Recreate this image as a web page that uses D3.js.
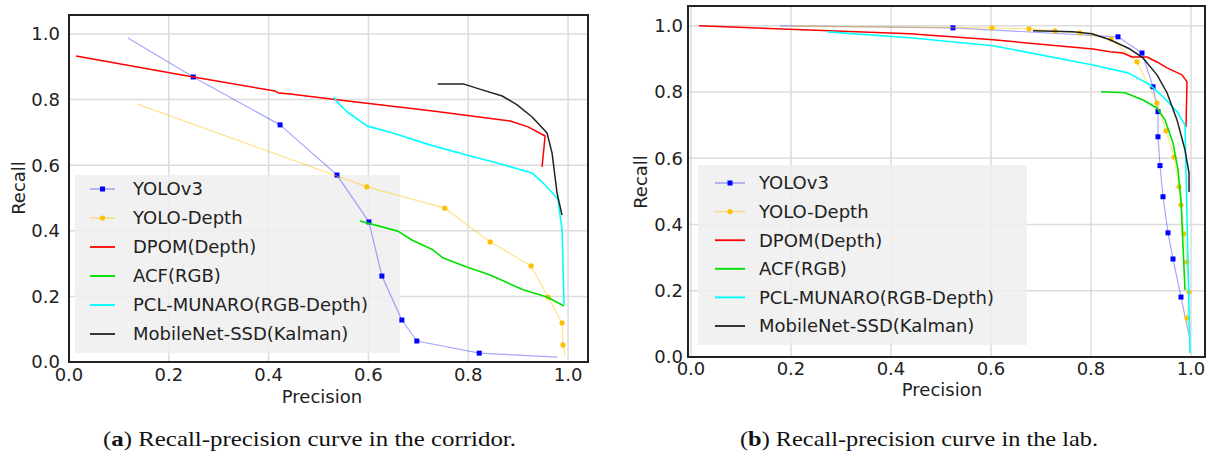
<!DOCTYPE html>
<html>
<head>
<meta charset="utf-8">
<script src="https://cdn.jsdelivr.net/npm/d3@7"></script>
<style>
  body { margin: 0; background: #fff; }
  svg text { font-family: "DejaVu Sans", sans-serif; fill: #222; }
  svg text.caption { font-family: "Liberation Serif", serif; fill: #111; }
</style>
</head>
<body>
<div id="chart"></div>
<script>
// series names, in legend order
const seriesNames = ["YOLOv3", "YOLO-Depth", "DPOM(Depth)", "ACF(RGB)", "PCL-MUNARO(RGB-Depth)", "MobileNet-SSD(Kalman)"];
const tickValues = [0, 0.2, 0.4, 0.6, 0.8, 1.0];

// (a) corridor, [precision, recall]
const corridorYolo = [[0.118, 0.988], [0.249, 0.869], [0.423, 0.723], [0.537, 0.570], [0.601, 0.427],
  [0.627, 0.262], [0.667, 0.128], [0.697, 0.064], [0.822, 0.027], [0.978, 0.015]];
const corridorYoloDepth = [[0.136, 0.787], [0.597, 0.534], [0.753, 0.469], [0.844, 0.366], [0.926, 0.293],
  [0.960, 0.198], [0.988, 0.119], [0.990, 0.052], [0.994, 0.018]];
const corridorDpom = [[0.014, 0.933], [0.249, 0.869], [0.413, 0.826], [0.421, 0.820], [0.443, 0.817],
  [0.533, 0.800], [0.729, 0.765], [0.884, 0.735], [0.920, 0.717], [0.954, 0.689], [0.948, 0.595]];
const corridorAcf = [[0.583, 0.430], [0.659, 0.399], [0.687, 0.372], [0.727, 0.344], [0.750, 0.317],
  [0.797, 0.290], [0.844, 0.265], [0.910, 0.220], [0.958, 0.198], [0.992, 0.171]];
const corridorPcl = [[0.531, 0.808], [0.537, 0.793], [0.557, 0.763], [0.597, 0.720], [0.649, 0.698],
  [0.723, 0.662], [0.797, 0.631], [0.858, 0.607], [0.928, 0.576], [0.950, 0.546], [0.978, 0.500],
  [0.980, 0.494], [0.988, 0.402], [0.992, 0.174]];
const corridorMobile = [[0.739, 0.848], [0.790, 0.848], [0.823, 0.832], [0.868, 0.811], [0.898, 0.784],
  [0.928, 0.747], [0.958, 0.698], [0.968, 0.637], [0.978, 0.515], [0.988, 0.448]];

// (b) lab, [precision, recall]
const labYolo = [[0.178, 1.000], [0.524, 0.994], [0.854, 0.967], [0.902, 0.918], [0.924, 0.816],
  [0.934, 0.741], [0.934, 0.665], [0.938, 0.578], [0.944, 0.484], [0.954, 0.375], [0.964, 0.296],
  [0.980, 0.181], [0.996, 0.066]];
const labYoloDepth = [[0.200, 0.999], [0.602, 0.994], [0.676, 0.991], [0.728, 0.985], [0.778, 0.979],
  [0.840, 0.960], [0.892, 0.891], [0.932, 0.767], [0.950, 0.683], [0.966, 0.604], [0.976, 0.514],
  [0.980, 0.459], [0.986, 0.372], [0.992, 0.287], [0.996, 0.196], [0.992, 0.118], [0.996, 0.066]];
const labDpom = [[0.016, 1.000], [0.438, 0.976], [0.604, 0.958], [0.804, 0.930], [0.838, 0.922],
  [0.864, 0.918], [0.882, 0.906], [0.912, 0.906], [0.932, 0.891], [0.952, 0.873], [0.982, 0.852],
  [0.992, 0.831], [0.990, 0.695]];
const labAcf = [[0.820, 0.801], [0.868, 0.798], [0.904, 0.776], [0.932, 0.752], [0.948, 0.716],
  [0.964, 0.646], [0.974, 0.565], [0.980, 0.474], [0.982, 0.405], [0.988, 0.202]];
const labPcl = [[0.274, 0.982], [0.438, 0.964], [0.604, 0.940], [0.804, 0.882], [0.874, 0.858],
  [0.918, 0.822], [0.944, 0.786], [0.972, 0.741], [0.988, 0.701], [0.998, 0.012]];
const labMobile = [[0.684, 0.985], [0.764, 0.982], [0.802, 0.976], [0.838, 0.958], [0.878, 0.930],
  [0.904, 0.903], [0.932, 0.852], [0.952, 0.798], [0.972, 0.716], [0.988, 0.625], [0.996, 0.556],
  [0.996, 0.498]];

const styles = [
  {line: "#0000ff", opacity: 0.35, width: 1.2, mark: "square", markColor: "#0000ff"},
  {line: "#ffc000", opacity: 0.45, width: 1.2, mark: "circle", markColor: "#ffc000"},
  {line: "#ff0000", opacity: 1, width: 1.5},
  {line: "#00e000", opacity: 1, width: 1.6},
  {line: "#00ffff", opacity: 1, width: 1.6},
  {line: "#222222", opacity: 1, width: 1.5}
];

const fontSize = "18px";

const svg = d3.select("#chart").append("svg")
  .attr("width", 1213).attr("height", 457);

function drawPanel(cfg) {
  const g = svg.append("g");
  const x = d3.scaleLinear().domain(cfg.xDomain).range([cfg.left, cfg.right]);
  const y = d3.scaleLinear().domain(cfg.yDomain).range([cfg.bottom, cfg.top]);

  // grid
  g.selectAll("line.gx").data(tickValues).enter().append("line")
    .attr("x1", d => x(d)).attr("x2", d => x(d))
    .attr("y1", cfg.top).attr("y2", cfg.bottom)
    .attr("stroke", "#dcdcdc").attr("stroke-width", 1.5);
  g.selectAll("line.gy").data(tickValues).enter().append("line")
    .attr("y1", d => y(d)).attr("y2", d => y(d))
    .attr("x1", cfg.left).attr("x2", cfg.right)
    .attr("stroke", "#dcdcdc").attr("stroke-width", 1.5);

  // legend background sits under the curves
  const lg = cfg.legend;
  g.append("rect")
    .attr("x", lg.x).attr("y", lg.y).attr("width", lg.w).attr("height", lg.h)
    .attr("fill", "#efefef").attr("fill-opacity", 0.85);

  const line = d3.line().x(d => x(d[0])).y(d => y(d[1]));
  cfg.series.forEach((s, i) => {
    const st = styles[i];
    g.append("path").datum(s)
      .attr("d", line)
      .attr("fill", "none")
      .attr("stroke", st.line)
      .attr("stroke-opacity", st.opacity)
      .attr("stroke-width", st.width)
      .attr("stroke-linejoin", "round");
    if (st.mark) {
      const pts = s.slice(1, -1);
      if (st.mark === "square") {
        g.selectAll(null).data(pts).enter().append("rect")
          .attr("x", d => x(d[0]) - 2.5).attr("y", d => y(d[1]) - 2.5)
          .attr("width", 5).attr("height", 5)
          .attr("fill", st.markColor);
      } else {
        g.selectAll(null).data(pts).enter().append("circle")
          .attr("cx", d => x(d[0])).attr("cy", d => y(d[1]))
          .attr("r", 2.6).attr("fill", st.markColor);
      }
    }
  });

  seriesNames.forEach((name, i) => {
    const st = styles[i];
    const ry = lg.firstRow + i * lg.step;
    g.append("line")
      .attr("x1", lg.lineX).attr("x2", lg.lineX + lg.lineW)
      .attr("y1", ry).attr("y2", ry)
      .attr("stroke", st.line).attr("stroke-opacity", st.opacity)
      .attr("stroke-width", st.width + 0.3);
    if (st.mark === "square") {
      g.append("rect").attr("x", lg.lineX + lg.lineW / 2 - 2.5).attr("y", ry - 2.5)
        .attr("width", 5).attr("height", 5).attr("fill", st.markColor);
    } else if (st.mark) {
      g.append("circle").attr("cx", lg.lineX + lg.lineW / 2).attr("cy", ry)
        .attr("r", 2.6).attr("fill", st.markColor);
    }
    g.append("text")
      .attr("x", lg.textX).attr("y", ry)
      .attr("dy", "0.35em")
      .style("font-size", fontSize)
      .text(name);
  });

  // frame
  g.append("rect")
    .attr("x", cfg.left).attr("y", cfg.top)
    .attr("width", cfg.right - cfg.left).attr("height", cfg.bottom - cfg.top)
    .attr("fill", "none").attr("stroke", "#222").attr("stroke-width", 2);

  // tick labels
  const fmt = d3.format(".1f");
  g.selectAll(null).data(tickValues).enter().append("text")
    .attr("x", d => x(d)).attr("y", cfg.bottom + cfg.xPad)
    .attr("dy", "0.71em").attr("text-anchor", "middle")
    .style("font-size", fontSize)
    .text(fmt);
  g.selectAll(null).data(tickValues).enter().append("text")
    .attr("x", cfg.left - cfg.yPad).attr("y", d => y(d))
    .attr("dy", "0.35em").attr("text-anchor", "end")
    .style("font-size", fontSize)
    .text(fmt);

  g.append("text")
    .attr("x", cfg.xLabel[0]).attr("y", cfg.xLabel[1])
    .attr("text-anchor", "middle").style("font-size", fontSize)
    .text("Precision");
  g.append("text")
    .attr("transform", `translate(${cfg.yLabel[0]},${cfg.yLabel[1]}) rotate(-90)`)
    .attr("text-anchor", "middle").attr("dy", "0.35em").style("font-size", fontSize)
    .text("Recall");

  const cap = g.append("text").attr("class", "caption")
    .attr("x", cfg.caption.x).attr("y", cfg.caption.y)
    .attr("textLength", cfg.caption.len).attr("lengthAdjust", "spacingAndGlyphs")
    .style("font-size", "22px");
  cap.append("tspan").text("(");
  cap.append("tspan").style("font-weight", "bold").text(cfg.caption.letter);
  cap.append("tspan").text(") " + cfg.caption.text);
}

drawPanel({
  left: 69, right: 588, top: 15, bottom: 362,
  xDomain: [0, 1.04], yDomain: [0, 1.058],
  xPad: 6, yPad: 9,
  series: [corridorYolo, corridorYoloDepth, corridorDpom, corridorAcf, corridorPcl, corridorMobile],
  legend: {x: 75, y: 175, w: 325, h: 178, firstRow: 189, step: 29, lineX: 90, lineW: 25, textX: 133},
  xLabel: [322, 403], yLabel: [19, 188],
  caption: {x: 103, y: 446, len: 413, letter: "a", text: "Recall-precision curve in the corridor."}
});

drawPanel({
  left: 688, right: 1205, top: 6, bottom: 357,
  xDomain: [-0.006, 1.028], yDomain: [0, 1.06],
  xPad: 5, yPad: 5,
  series: [labYolo, labYoloDepth, labDpom, labAcf, labPcl, labMobile],
  legend: {x: 698, y: 165, w: 329, h: 180, firstRow: 183, step: 28.6, lineX: 715, lineW: 30, textX: 759},
  xLabel: [942, 396], yLabel: [641, 182],
  caption: {x: 740, y: 446, len: 358, letter: "b", text: "Recall-precision curve in the lab."}
});
</script>
</body>
</html>
